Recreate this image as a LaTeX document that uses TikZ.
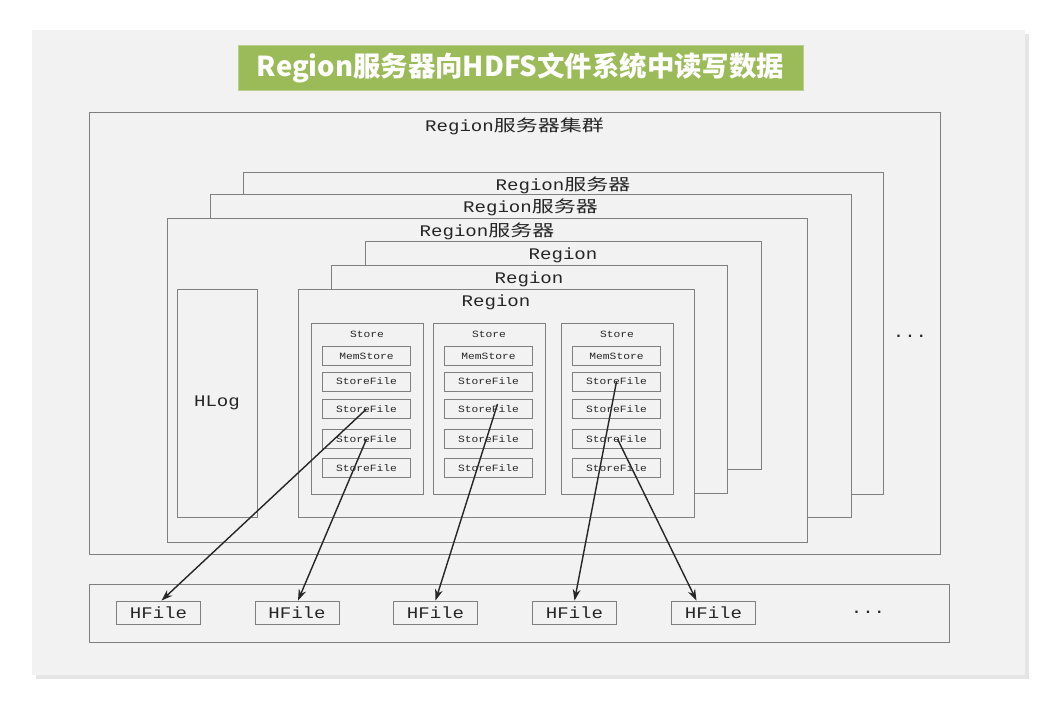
\documentclass[tikz,border=0pt]{standalone}
\usepackage{fontspec}
\setmainfont{Liberation Mono}[FakeStretch=1.18]
\newfontfamily\cjk{Noto Sans CJK SC}[FakeStretch=1.36]
\newfontfamily\titlefont{Noto Sans CJK SC}
\usepackage{xcolor}
\usepackage{tikz}
\usetikzlibrary{positioning,arrows.meta,calc}

\definecolor{panel}{HTML}{F2F2F2}
\definecolor{edge}{HTML}{7F7F7F}
\definecolor{ink}{HTML}{262626}
\definecolor{titlegreen}{HTML}{9BBB59}

\newcommand{\bigtxt}{\fontsize{11.5}{13}\selectfont}
\newcommand{\smalltxt}{\fontsize{6.8}{8}\selectfont}

\begin{document}
\begin{tikzpicture}[x=0.025cm, y=-0.025cm, >={Stealth[length=8pt,width=5.5pt]},
    sz/.style 2 args={minimum width=#1*0.025cm, minimum height=#2*0.025cm},
    box/.style={draw=edge, fill=panel, line width=0.6pt, inner sep=0pt},
    fbox/.style={box, sz={88}{19}, font=\smalltxt, text=ink},
    hfile/.style={box, sz={84}{23}, font=\bigtxt, text=ink},
    lbl/.style={font=\bigtxt, text=ink, inner sep=0pt},
    flow/.style={->, ink, line width=1pt}]

  \useasboundingbox (0,0) rectangle (1056,707);

  %% ─── Page and title ─────────────────────────────────────────────────────
  \fill[black!10] (36,34) rectangle (1029,679);
  \fill[panel] (32,30) rectangle (1025,675);

  \node[fill=titlegreen, draw=titlegreen!70!white, sz={565}{45},
        font=\titlefont\bfseries\fontsize{19.5}{22}\selectfont, text=white] (title)
      at (520.5,67.5) {Region服务器向HDFS文件系统中读写数据};

  %% ─── Region server cluster ──────────────────────────────────────────────
  \node[box, sz={851}{442}] (cluster) at (514.5,333) {};
  \node[lbl] (clusterlbl) at ($(cluster.north)+(0,15)$) {Region{\cjk 服务器集群}};

  \node[lbl] (moresrv) at (910,336) {...};

  \node[box, sz={640}{322}] (srv3) at (563,333) {};
  \node[lbl] at ($(srv3.north)+(0,14)$) {Region{\cjk 服务器}};

  \node[box, sz={641}{323}] (srv2) at (530.5,355.5) {};
  \node[lbl] at ($(srv2.north)+(0,14)$) {Region{\cjk 服务器}};

  \node[box, sz={640}{324}] (srv1) at (487,380) {};
  \node[lbl] at ($(srv1.north)+(0,14)$) {Region{\cjk 服务器}};

  \node[box, sz={80}{228}, font=\bigtxt, text=ink] (hlog) at (217,403) {HLog};

  %% regions, back to front
  \node[box, sz={396}{228}] (reg3) at (563,355) {};
  \node[lbl] at ($(reg3.north)+(0,15)$) {Region};

  \node[box, sz={396}{228}] (reg2) at (529,379) {};
  \node[lbl] at ($(reg2.north)+(0,15)$) {Region};

  \node[box, sz={396}{228}] (reg1) at (496,403) {};
  \node[lbl] at ($(reg1.north)+(0,14)$) {Region};

  %% ─── Stores ─────────────────────────────────────────────────────────────
  \foreach \s/\x in {1/367, 2/489, 3/617} {
    \node[box, sz={112}{171}] (store\s) at (\x,408.5) {};
    \node[lbl, font=\smalltxt] at ($(store\s.north)+(0,12)$) {Store};
    \node[fbox] (s\s mem) at (\x-0.5,356) {MemStore};
    \foreach \i/\y in {1/381.5, 2/409, 3/439, 4/468}
      \node[fbox] (s\s f\i) at (\x-0.5,\y) {StoreFile};
  }

  %% ─── HDFS ───────────────────────────────────────────────────────────────
  \node[box, sz={860}{58}] (hdfs) at (519.5,613) {};

  \foreach \k/\x in {1/158.5, 2/297, 3/435.5, 4/574.5, 5/713.5}
    \node[hfile] (hf\k) at (\x,612.5) {HFile};

  \node[lbl] (morehf) at (868,612) {...};

  %% store files written out to HFiles
  \draw[flow] (s1f2.center) -- ($(hf1.north)+(3,0)$);
  \draw[flow] (s1f3.center) -- ($(hf2.north)+(1,0)$);
  \draw[flow] ($(s2f2.center)+(9,-5)$) -- (hf3.north);
  \draw[flow] (s3f1.center) -- (hf4.north);
  \draw[flow] ($(s3f3.center)+(1,0)$) -- ($(hf5.north)+(-17,0)$);

\end{tikzpicture}
\end{document}
